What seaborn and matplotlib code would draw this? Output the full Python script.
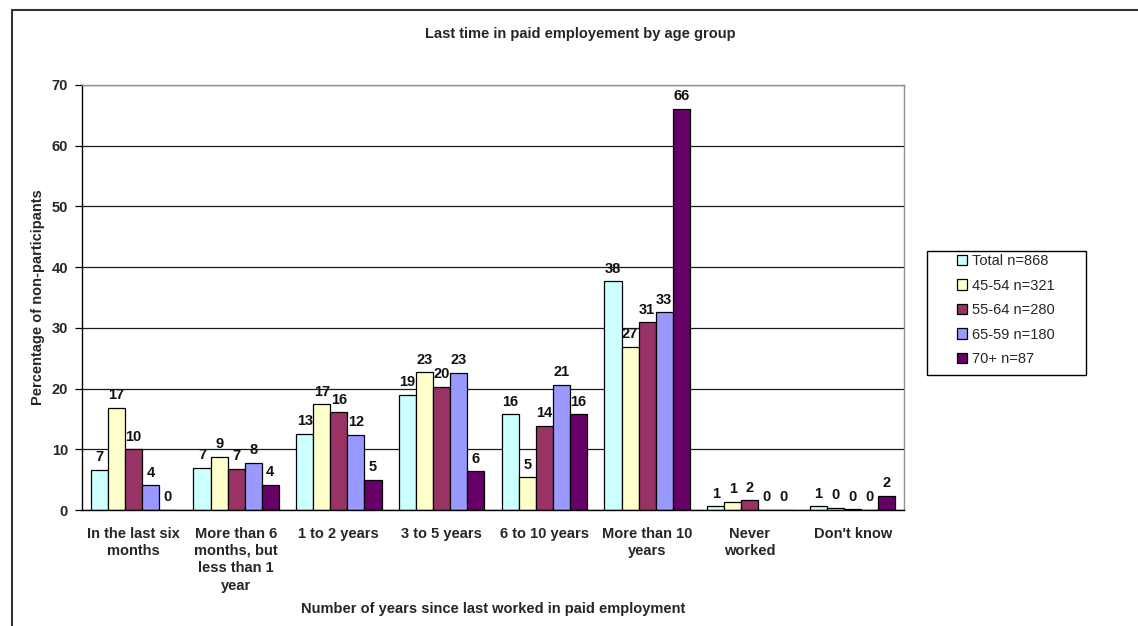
import numpy as np
import pandas as pd
import matplotlib
matplotlib.use("Agg")
import matplotlib.pyplot as plt
from matplotlib.lines import Line2D
from matplotlib.patches import Rectangle
import seaborn as sns

# ---------------- data ----------------
categories = ["In the last six\nmonths",
              "More than 6\nmonths, but\nless than 1\nyear",
              "1 to 2 years", "3 to 5 years", "6 to 10 years",
              "More than 10\nyears", "Never\nworked", "Don't know"]
groups = ["Total n=868", "45-54 n=321", "55-64 n=280", "65-59 n=180", "70+ n=87"]
total     = [6.6, 7.0, 12.6, 19.0, 15.8, 37.7, 0.6, 0.6]
age_45_54 = [16.8, 8.8, 17.4, 22.7, 5.4, 26.9, 1.4, 0.4]
age_55_64 = [10.0, 6.8, 16.1, 20.3, 13.9, 30.9, 1.6, 0.1]
age_65_59 = [4.1, 7.8, 12.4, 22.6, 20.6, 32.6, 0.0, 0.0]
age_70    = [0.0, 4.2, 5.0, 6.4, 15.8, 66.1, 0.0, 2.3]
series = [total, age_45_54, age_55_64, age_65_59, age_70]
colors = ["#CCFFFF", "#FFFFCC", "#993366", "#9999FF", "#660066"]
yticks = [0, 10, 20, 30, 40, 50, 60, 70]

title = "Last time in paid employement by age group"
xlabel = "Number of years since last worked in paid employment"
ylabel = "Percentage of non-participants"

rows = []
for g, vals in zip(groups, series):
    for c, v in zip(categories, vals):
        rows.append({"category": c, "group": g, "value": v})
df = pd.DataFrame(rows)

# ---------------- style ----------------
sns.set_style("white")
plt.rcParams["font.family"] = ["Liberation Sans", "DejaVu Sans"]
plt.rcParams["font.weight"] = "bold"
FS = 10.5

W, H = 1138, 626
fig = plt.figure(figsize=(W / 100, H / 100), dpi=100)
L, R, T, B = 82, 904, 85, 510
ax = fig.add_axes([L / W, 1 - B / H, (R - L) / W, (B - T) / H])

sns.barplot(data=df, x="category", y="value", hue="group",
            order=categories, hue_order=groups, palette=colors,
            width=0.83, saturation=1, edgecolor="black", linewidth=0.9,
            errorbar=None, ax=ax, legend=True)

# data labels
for cont, vals in zip(ax.containers, series):
    ax.bar_label(cont, labels=[f"{round(v)}" for v in vals], padding=4,
                 fontsize=FS, fontweight="bold", color="#111111")

ax.set_ylim(0, 70)
ax.set_xlim(-0.5, len(categories) - 0.5)
ax.set_yticks(yticks)
ax.set_yticklabels([str(t) for t in yticks], fontsize=FS, fontweight="bold")
ax.yaxis.grid(True, color="#1a1a1a", linewidth=0.9)
ax.set_axisbelow(True)

ax.set_xticks(range(len(categories)))
ax.set_xticklabels(categories, fontsize=FS, fontweight="bold", linespacing=1.3,
                   va="top")
ax.set_xticks(np.arange(-0.5, len(categories)), minor=True)
ax.tick_params(axis="x", which="major", length=0, pad=12)
ax.tick_params(axis="x", which="minor", length=5, width=0.9, color="black",
               direction="out")
ax.tick_params(axis="y", which="major", length=5, width=0.9, color="black",
               direction="out", pad=5, left=True)
ax.set_xlabel("")
ax.set_ylabel("")

for s in ["left", "bottom"]:
    ax.spines[s].set_color("black")
    ax.spines[s].set_linewidth(1.0)
for s in ["top", "right"]:
    ax.spines[s].set_visible(True)
    ax.spines[s].set_color("#909090")
    ax.spines[s].set_linewidth(1.0)

# legend
handles, labels = ax.get_legend_handles_labels()
ax.get_legend().remove()
leg = fig.legend(handles, labels, loc="upper left",
                 bbox_to_anchor=(957 / W, 1 - 254 / H),
                 frameon=False, prop={"weight": "normal", "size": FS},
                 handlelength=0.7, handleheight=0.7, handletextpad=0.35,
                 labelspacing=0.72, borderpad=0, borderaxespad=0)
fig.patches.append(Rectangle((927 / W, 1 - 375 / H), (1086 - 927) / W,
                             (375 - 251) / H, transform=fig.transFigure,
                             fill=False, edgecolor="black", linewidth=1.0))

# titles
fig.text(580 / W, 1 - 34 / H, title, ha="center", va="center",
         fontsize=FS, fontweight="bold")
fig.text(493 / W, 1 - 609 / H, xlabel, ha="center", va="center",
         fontsize=FS, fontweight="bold")
fig.text(38 / W, 1 - 297 / H, ylabel, ha="center", va="center",
         rotation=90, fontsize=FS, fontweight="bold")

# outer chart border
fig.add_artist(Line2D([12 / W, 12 / W], [0, 1 - 10 / H], transform=fig.transFigure,
                      color="#333333", linewidth=1.5))
fig.add_artist(Line2D([12 / W, 1], [1 - 10 / H, 1 - 10 / H], transform=fig.transFigure,
                      color="#333333", linewidth=1.5))

fig.savefig("out.png", dpi=100)
